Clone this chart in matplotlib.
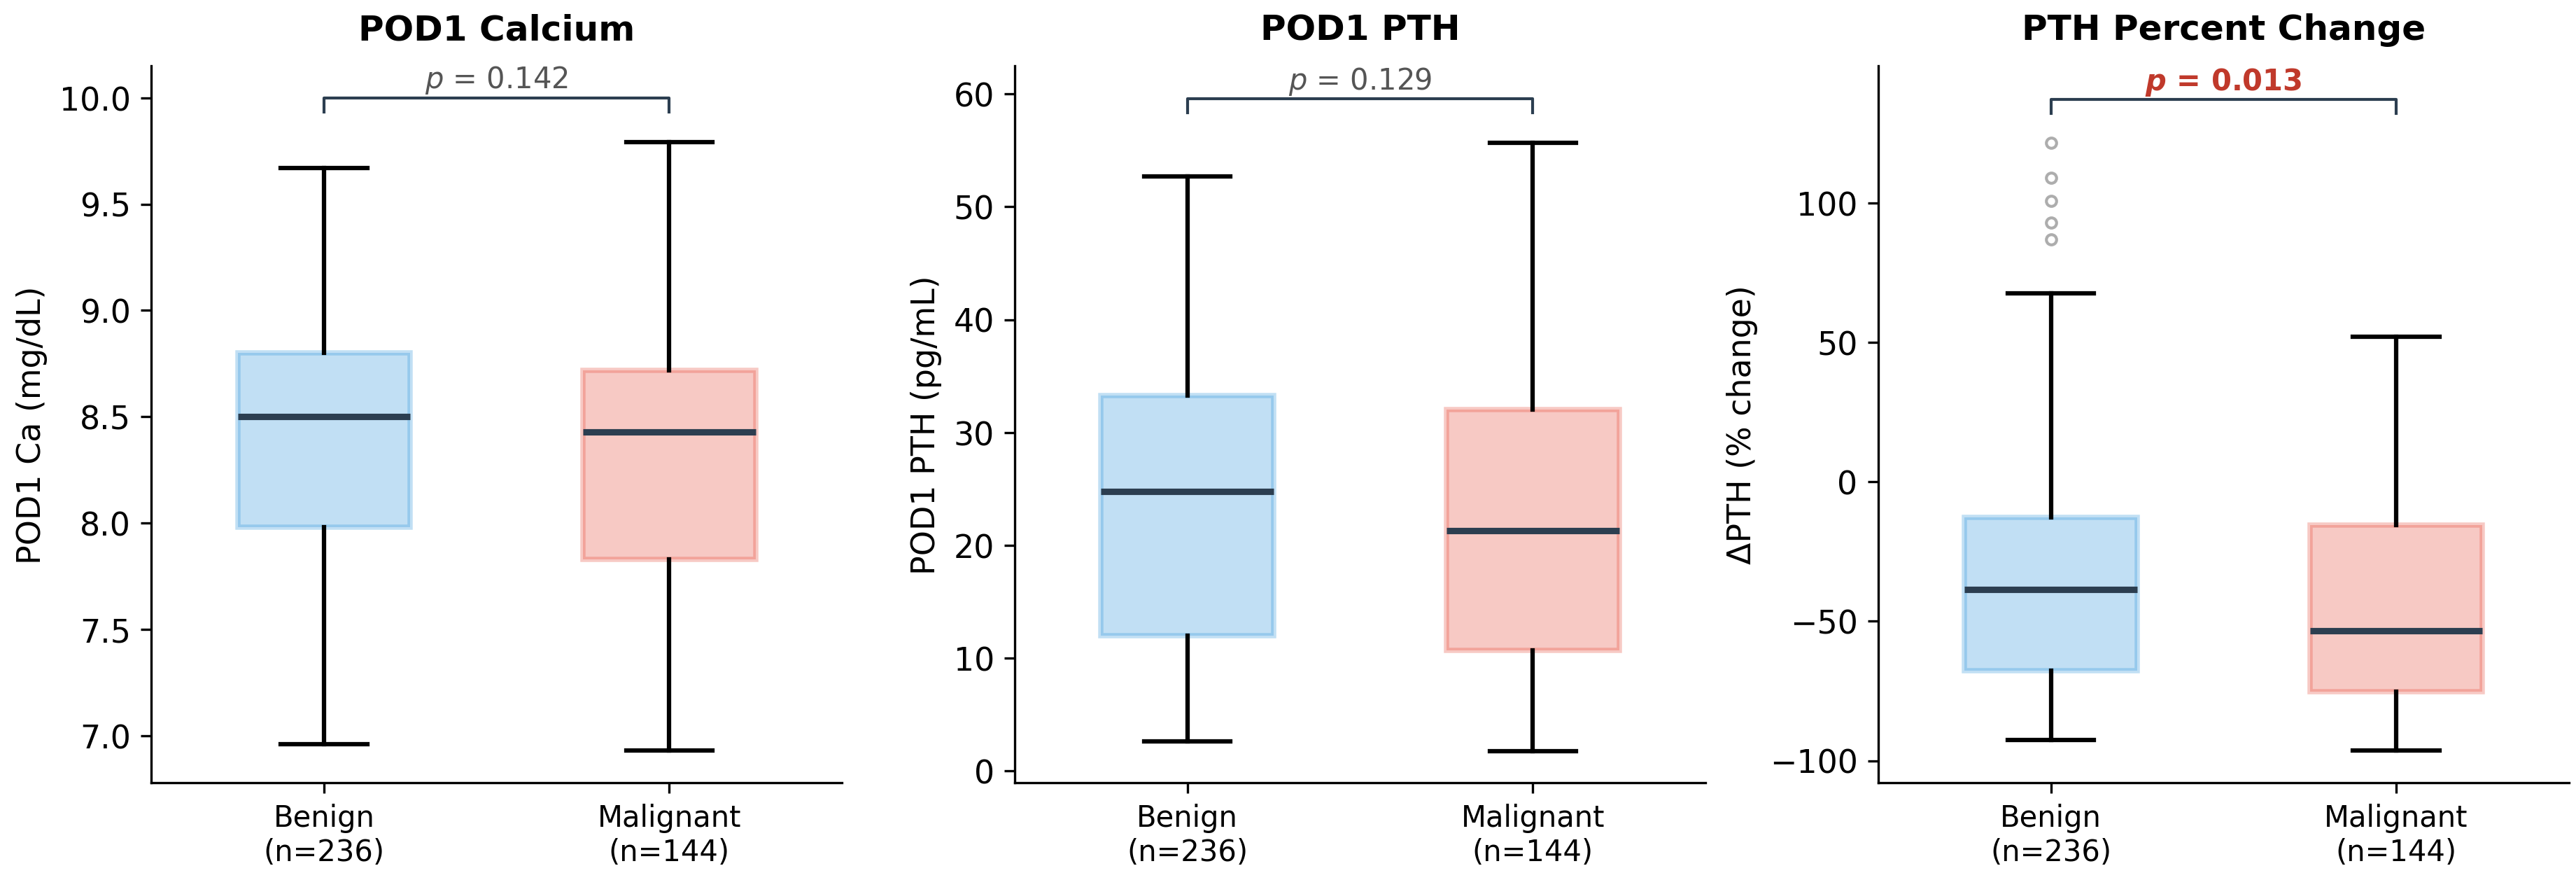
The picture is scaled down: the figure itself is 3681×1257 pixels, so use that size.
import matplotlib.pyplot as plt

# group labels
groups = ["Benign\n(n=236)", "Malignant\n(n=144)"]

# box statistics: whislo, q1, med, q3, whishi
ca_benign = [6.96, 7.98, 8.50, 8.80, 9.67]
ca_malig = [6.93, 7.83, 8.43, 8.72, 9.79]
pth_benign = [2.6, 12.0, 24.8, 33.3, 52.7]
pth_malig = [1.75, 10.7, 21.3, 32.0, 55.7]
dpth_benign = [-92.7, -67.8, -38.5, -12.8, 67.6]
dpth_malig = [-96.4, -75.3, -53.4, -15.6, 52.0]
dpth_benign_fliers = [121.7, 109.1, 100.8, 92.9, 87.0]

titles = ["POD1 Calcium", "POD1 PTH", "PTH Percent Change"]
ylabels = ["POD1 Ca (mg/dL)", "POD1 PTH (pg/mL)", "ΔPTH (% change)"]
pvals = [0.142, 0.129, 0.013]
bracket_y = [10.0, 59.6, 137.2]
ylims = [(6.78, 10.15), (-1.05, 62.5), (-107.9, 149.2)]
yticks = [[7.0, 7.5, 8.0, 8.5, 9.0, 9.5, 10.0], [0, 10, 20, 30, 40, 50, 60], [-100, -50, 0, 50, 100]]

colors = ["#3498db", "#e74c3c"]


def make_stats(vals, fliers=()):
    return dict(whislo=vals[0], q1=vals[1], med=vals[2], q3=vals[3], whishi=vals[4], fliers=list(fliers))


panels = [
    [make_stats(ca_benign), make_stats(ca_malig)],
    [make_stats(pth_benign), make_stats(pth_malig)],
    [make_stats(dpth_benign, dpth_benign_fliers), make_stats(dpth_malig)],
]

fig, axes = plt.subplots(1, 3, figsize=(12.273, 4.193), dpi=300)
fig.subplots_adjust(left=0.0587, right=0.997, bottom=0.1105, top=0.9245, wspace=0.25)

for i, ax in enumerate(axes):
    bp = ax.bxp(panels[i], positions=[1, 2], widths=0.5, patch_artist=True,
                showfliers=True,
                medianprops=dict(color="#2c3e50", linewidth=2.2),
                whiskerprops=dict(color="black", linewidth=1.5),
                capprops=dict(color="black", linewidth=1.5),
                flierprops=dict(marker="o", markerfacecolor="none", markeredgecolor="#999999",
                                markersize=3.5, alpha=0.8, markeredgewidth=1.0))
    for patch, c in zip(bp["boxes"], colors):
        patch.set_facecolor(c)
        patch.set_edgecolor(c)
        patch.set_alpha(0.3)
        patch.set_linewidth(1.8)

    ax.set_xlim(0.5, 2.5)
    ax.set_ylim(*ylims[i])
    ax.set_yticks(yticks[i])
    ax.set_xticks([1, 2])
    ax.set_xticklabels(groups, fontsize=10)
    ax.tick_params(axis="y", labelsize=11)
    ax.set_title(titles[i], fontsize=12, fontweight="bold", pad=9)
    ax.set_ylabel(ylabels[i], fontsize=11)
    ax.spines["top"].set_visible(False)
    ax.spines["right"].set_visible(False)

    # significance bracket
    y = bracket_y[i]
    h = (ylims[i][1] - ylims[i][0]) * 0.02
    ax.plot([1, 1, 2, 2], [y - h, y, y, y - h], color="#2c3e50", linewidth=1.0)
    if pvals[i] < 0.05:
        ax.text(1.5, y + h * 0.15, r"$\mathbfit{p}$ = %.3f" % pvals[i], ha="center", va="bottom",
                fontsize=10, fontweight="bold", color="#c0392b")
    else:
        ax.text(1.5, y + h * 0.15, r"$p$ = %.3f" % pvals[i], ha="center", va="bottom",
                fontsize=10, color="#555555")

fig.savefig("out.png", dpi=300)
